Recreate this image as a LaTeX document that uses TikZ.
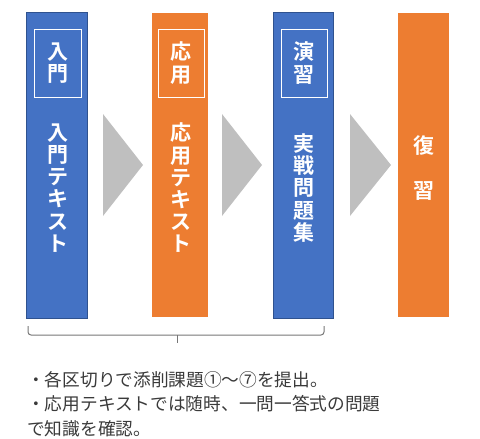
\documentclass[tikz,border=0pt]{standalone}
\usepackage{fontspec}
\newfontfamily\jp{Noto Sans CJK JP}
\newfontfamily\jpb{Noto Sans CJK JP Bold}
\definecolor{cblue}{HTML}{4472C4}
\definecolor{cblueb}{HTML}{2F528F}
\definecolor{corange}{HTML}{ED7D31}
\definecolor{cgray}{HTML}{BFBFBF}
\definecolor{cbrace}{HTML}{767676}
\definecolor{ctext}{HTML}{3A3A3A}
\tikzset{
  bluebox/.style={fill=cblue, draw=cblueb, line width=0.8pt, minimum width=61pt, minimum height=306pt, inner sep=0pt},
  orangebox/.style={fill=corange, draw=none, minimum height=304pt, inner sep=0pt},
  labelframe/.style={draw=white, line width=0.6pt, minimum width=47pt, minimum height=68pt, inner sep=0pt},
  vtext/.style={text=white, font=\jpb\fontsize{21}{22.2}\selectfont, align=center, inner sep=0pt},
  chev/.style={fill=cgray, draw=none},
  note/.style={text=ctext, font=\jp\fontsize{17.7}{24.5}\selectfont, align=left, inner sep=0pt}
}
\begin{document}
\begin{tikzpicture}[x=1pt,y=-1pt]
\useasboundingbox (0,0) rectangle (480,439);
% boxes
\node[bluebox] (b1) at (56.5,165) {};
\node[orangebox, minimum width=56pt] (b2) at (180,165) {};
\node[bluebox, minimum width=60pt] (b3) at (303,165) {};
\node[orangebox, minimum width=51pt] (b4) at (423.5,165) {};
% label frames
\node[labelframe] (f1) at (57.5,63) {};
\node[labelframe, minimum width=46pt] (f2) at (181,63) {};
\node[labelframe, minimum width=46pt] (f3) at (304,63) {};
\node[vtext] (l1) at (f1) {入\\門};
\node[vtext] (l2) at (f2) {応\\用};
\node[vtext] (l3) at (f3) {演\\習};
% main texts
\node[vtext] (t1) at (57.5,188) {入\\門\\テ\\キ\\ス\\ト};
\node[vtext] (t2) at (181,188) {応\\用\\テ\\キ\\ス\\ト};
\node[vtext] (t3) at (304,188) {実\\戦\\問\\題\\集};
\node[vtext] (t4) at (424,168) {復\\　\\習};
% chevrons
\fill[chev] (103,114) -- (143,165) -- (103,216) -- cycle;
\fill[chev] (222,114) -- (262,165) -- (222,216) -- cycle;
\fill[chev] (350,114) -- (391,165) -- (350,216) -- cycle;
% brace
\coordinate (bl) at (28,326);
\coordinate (br) at (324,326);
\coordinate (bm) at (177,335);
\coordinate (bt) at (177,343);
\draw[cbrace, line width=1pt, rounded corners=3pt] (bl) -- (28,335) -- (324,335) -- (br);
\draw[cbrace, line width=1pt] (bm) -- (bt);
% note
\node[note, anchor=base west] (n1) at (27,386) {・各区切りで添削課題①～⑦を提出。};
\node[note, anchor=base west] (n2) at (27,410.5) {・応用テキストでは随時、一問一答式の問題};
\node[note, anchor=base west] (n3) at (27,435) {で知識を確認。};
\end{tikzpicture}
\end{document}
